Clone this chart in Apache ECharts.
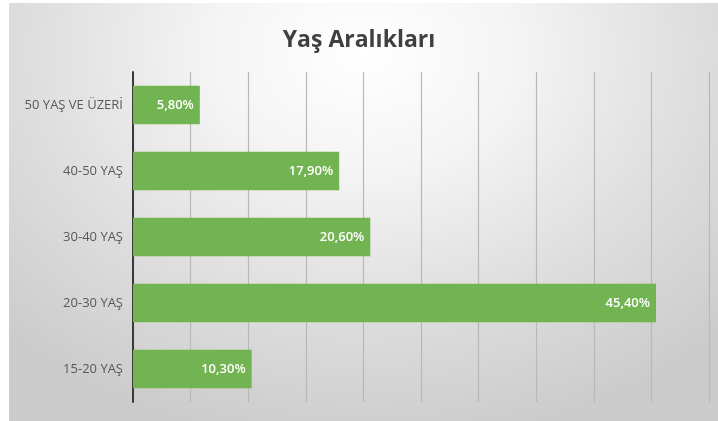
<!DOCTYPE html>
<html>
<head>
<meta charset="utf-8">
<script src="https://cdn.jsdelivr.net/npm/echarts@6/dist/echarts.min.js"></script>
<style>
html,body{margin:0;padding:0;background:#fff;}
#bg{position:absolute;left:9px;top:3px;width:709px;height:418px;
 background:radial-gradient(ellipse 72% 95% at 50% 12%, #ffffff 0%, #f4f4f4 30%, #dedede 65%, #cbcbcb 100%);}
#chart{position:absolute;left:0;top:0;width:718px;height:421px;}
</style>
</head>
<body>
<div id="bg"></div>
<div id="chart"></div>
<script>
const titleText = 'Yaş Aralıkları';
const categories = ['15-20 YAŞ', '20-30 YAŞ', '30-40 YAŞ', '40-50 YAŞ', '50 YAŞ VE ÜZERİ'];
const values = [10.3, 45.4, 20.6, 17.9, 5.8];
const axisMin = 0, axisMax = 50, axisStep = 5;

const chart = echarts.init(document.getElementById('chart'), null, {renderer: 'canvas'});
chart.setOption({
  backgroundColor: 'transparent',
  animation: false,
  title: {
    text: titleText,
    left: 'center',
    top: 24,
    textStyle: {fontFamily: 'Open Sans', fontWeight: 'bold', fontSize: 23, color: '#404040'}
  },
  grid: {left: 133, right: 9, top: 72, bottom: 19, containLabel: false},
  xAxis: {
    type: 'value', min: axisMin, max: axisMax, interval: axisStep,
    axisLabel: {show: false},
    axisLine: {show: false},
    axisTick: {show: false},
    splitLine: {show: true, lineStyle: {color: '#b8b8b8', width: 1.2}}
  },
  yAxis: {
    type: 'category', data: categories,
    axisLine: {show: true, lineStyle: {color: '#3a3a3a', width: 2}},
    axisTick: {show: false},
    axisLabel: {fontFamily: 'Open Sans', fontSize: 13, color: '#595959', margin: 10}
  },
  series: [{
    type: 'bar',
    data: values,
    barCategoryGap: '42%',
    itemStyle: {color: '#72b352'},
    label: {
      show: true, position: 'insideRight', distance: 6,
      formatter: p => p.value.toFixed(2).replace('.', ',') + '%',
      fontFamily: 'Open Sans', fontWeight: 600, fontSize: 13, color: '#ffffff'
    }
  }]
});
</script>
</body>
</html>
